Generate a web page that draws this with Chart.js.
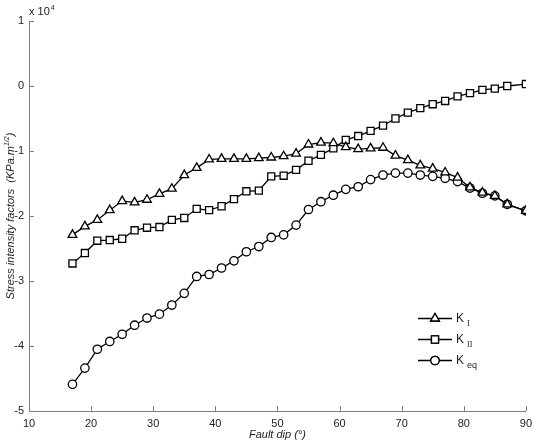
<!DOCTYPE html>
<html>
<head>
<meta charset="utf-8">
<script src="https://cdn.jsdelivr.net/npm/chart.js@4/dist/chart.umd.min.js"></script>
<style>
  html, body { margin: 0; padding: 0; background: #fff; }
  #wrap { width: 538px; height: 446px; }
</style>
</head>
<body>
<div id="wrap"><canvas id="grafica"></canvas></div>
<script>
// fault dip angles (degrees)
const dipAngles = [17, 19, 21, 23, 25, 27, 29, 31, 33, 35, 37, 39, 41, 43, 45, 47, 49, 51, 53,
                   55, 57, 59, 61, 63, 65, 67, 69, 71, 73, 75, 77, 79, 81, 83, 85, 87, 90];

// stress intensity factors, in units of 10^4 KPa.m^1/2
const kI  = [-2.29, -2.16, -2.06, -1.91, -1.77, -1.79, -1.75, -1.66, -1.58, -1.37, -1.26, -1.13,
             -1.12, -1.12, -1.12, -1.11, -1.10, -1.08, -1.04, -0.90, -0.87, -0.88, -0.94, -0.97,
             -0.96, -0.95, -1.07, -1.14, -1.22, -1.27, -1.33, -1.41, -1.56, -1.64, -1.69, -1.82, -1.92];
const kII = [-2.73, -2.57, -2.38, -2.37, -2.35, -2.22, -2.18, -2.17, -2.06, -2.03, -1.89, -1.91,
             -1.85, -1.74, -1.62, -1.61, -1.39, -1.38, -1.29, -1.15, -1.06, -0.96, -0.83, -0.77,
             -0.69, -0.61, -0.50, -0.41, -0.34, -0.28, -0.23, -0.16, -0.11, -0.06, -0.04, 0.00, 0.03];
const kEq = [-4.59, -4.34, -4.05, -3.93, -3.82, -3.68, -3.57, -3.51, -3.37, -3.19, -2.93, -2.90,
             -2.80, -2.69, -2.55, -2.47, -2.33, -2.29, -2.14, -1.90, -1.78, -1.68, -1.59, -1.55,
             -1.44, -1.37, -1.34, -1.34, -1.37, -1.39, -1.42, -1.47, -1.57, -1.65, -1.69, -1.82, -1.92];

const xTicks = [10, 20, 30, 40, 50, 60, 70, 80, 90];
const yTicks = [-5, -4, -3, -2, -1, 0, 1];

const FUENTE = '"Liberation Sans", Arial, Helvetica, sans-serif';
const GRIS = '#7f7f7f';

function puntos(valores) {
  return dipAngles.map((x, i) => ({ x: x, y: valores[i] }));
}

function serie(nombre, valores, estilo, radio) {
  return {
    label: nombre,
    data: puntos(valores),
    borderColor: '#000',
    borderWidth: 1.3,
    backgroundColor: '#fff',
    pointStyle: estilo,
    pointRadius: radio,
    pointBorderWidth: 1.3,
    pointBorderColor: '#000',
    pointBackgroundColor: '#fff',
    tension: 0
  };
}

// ticks hacia adentro, titulos y leyenda con sub/superindices
const decoracion = {
  id: 'decoracion',
  afterDraw(chart) {
    const ctx = chart.ctx;
    const xs = chart.scales.x, ys = chart.scales.y;
    const area = chart.chartArea;
    ctx.save();

    // ticks inward
    ctx.strokeStyle = GRIS;
    ctx.lineWidth = 1;
    ctx.beginPath();
    xTicks.forEach(v => {
      const px = Math.round(xs.getPixelForValue(v)) + 0.5;
      ctx.moveTo(px, area.bottom);
      ctx.lineTo(px, area.bottom - 5);
    });
    yTicks.forEach(v => {
      const py = Math.round(ys.getPixelForValue(v)) + 0.5;
      ctx.moveTo(area.left, py);
      ctx.lineTo(area.left + 5, py);
    });
    ctx.stroke();

    ctx.fillStyle = '#222';
    // x 10^4
    ctx.font = '11px ' + FUENTE;
    ctx.textAlign = 'left';
    ctx.textBaseline = 'alphabetic';
    ctx.fillText('x 10', area.left, 15);
    const w10 = ctx.measureText('x 10').width;
    ctx.font = '7px ' + FUENTE;
    ctx.fillText('4', area.left + w10 + 1, 10);

    // x title
    ctx.font = 'italic 11px ' + FUENTE;
    ctx.textAlign = 'center';
    ctx.fillText('Fault dip (°)', (area.left + area.right) / 2, 438);

    // y title, rotated
    ctx.save();
    ctx.translate(14, (area.top + area.bottom) / 2);
    ctx.rotate(-Math.PI / 2);
    ctx.font = 'italic 11px ' + FUENTE;
    const t1 = 'Stress intensity factors  (KPa.m';
    const t2 = ')';
    const w1 = ctx.measureText(t1).width;
    const w2 = ctx.measureText(t2).width;
    ctx.font = 'italic 7px ' + FUENTE;
    const wsup = ctx.measureText('1/2').width;
    const total = w1 + wsup + w2;
    ctx.textAlign = 'left';
    let x0 = -total / 2;
    ctx.font = 'italic 11px ' + FUENTE;
    ctx.fillText(t1, x0, 0);
    ctx.font = 'italic 7px ' + FUENTE;
    ctx.fillText('1/2', x0 + w1, -5);
    ctx.font = 'italic 11px ' + FUENTE;
    ctx.fillText(t2, x0 + w1 + wsup, 0);
    ctx.restore();

    // legend
    const filas = [
      { ds: 0, sub: 'I', y: 318 },
      { ds: 1, sub: 'II', y: 339 },
      { ds: 2, sub: 'eq', y: 360 }
    ];
    filas.forEach(f => {
      const d = chart.data.datasets[f.ds];
      ctx.strokeStyle = '#000';
      ctx.lineWidth = 1.3;
      ctx.beginPath();
      ctx.moveTo(418, f.y + 0.5);
      ctx.lineTo(452, f.y + 0.5);
      ctx.stroke();
      ctx.fillStyle = '#fff';
      Chart.helpers.drawPoint(ctx, {
        pointStyle: d.pointStyle, radius: d.pointRadius, borderWidth: 1.3, rotation: 0
      }, 435, f.y + 0.5);
      ctx.fill();
      ctx.stroke();
      ctx.fillStyle = '#222';
      ctx.textAlign = 'left';
      ctx.textBaseline = 'alphabetic';
      ctx.font = '12px ' + FUENTE;
      ctx.fillText('K', 456, f.y + 4);
      const wk = ctx.measureText('K').width;
      ctx.font = (f.sub === 'eq' ? '9px ' : '8px ') + (f.sub === 'eq' ? FUENTE : '"Liberation Serif", serif');
      ctx.fillText(f.sub, 456 + wk + 3, f.y + 8);
    });

    ctx.restore();
  }
};

const ctx = document.getElementById('grafica').getContext('2d');
const miGrafica = new Chart(ctx, {
  type: 'line',
  data: {
    datasets: [
      serie('K I', kI, 'triangle', 5),
      serie('K II', kII, 'rect', 5),
      serie('K eq', kEq, 'circle', 4.2)
    ]
  },
  options: {
    responsive: true,
    maintainAspectRatio: false,
    animation: false,
    layout: { padding: { top: 21, right: 10, left: 0, bottom: 0 } },
    plugins: {
      legend: { display: false },
      tooltip: { enabled: false }
    },
    scales: {
      x: {
        type: 'linear',
        min: 10,
        max: 90,
        afterBuildTicks: s => { s.ticks = xTicks.map(v => ({ value: v })); },
        afterFit: s => { s.height = 35; },
        grid: { display: true, drawOnChartArea: false, drawTicks: false, color: GRIS },
        border: { display: true, color: GRIS, width: 1 },
        ticks: { color: '#222', font: { family: FUENTE, size: 11 }, padding: 6, maxRotation: 0 }
      },
      y: {
        type: 'linear',
        min: -5,
        max: 1,
        afterBuildTicks: s => { s.ticks = yTicks.map(v => ({ value: v })); },
        afterFit: s => { s.width = 29; },
        grid: { display: true, drawOnChartArea: false, drawTicks: false, color: GRIS },
        border: { display: true, color: GRIS, width: 1 },
        ticks: { color: '#222', font: { family: FUENTE, size: 11 }, padding: 5 }
      }
    }
  },
  plugins: [decoracion]
});
</script>
</body>
</html>
